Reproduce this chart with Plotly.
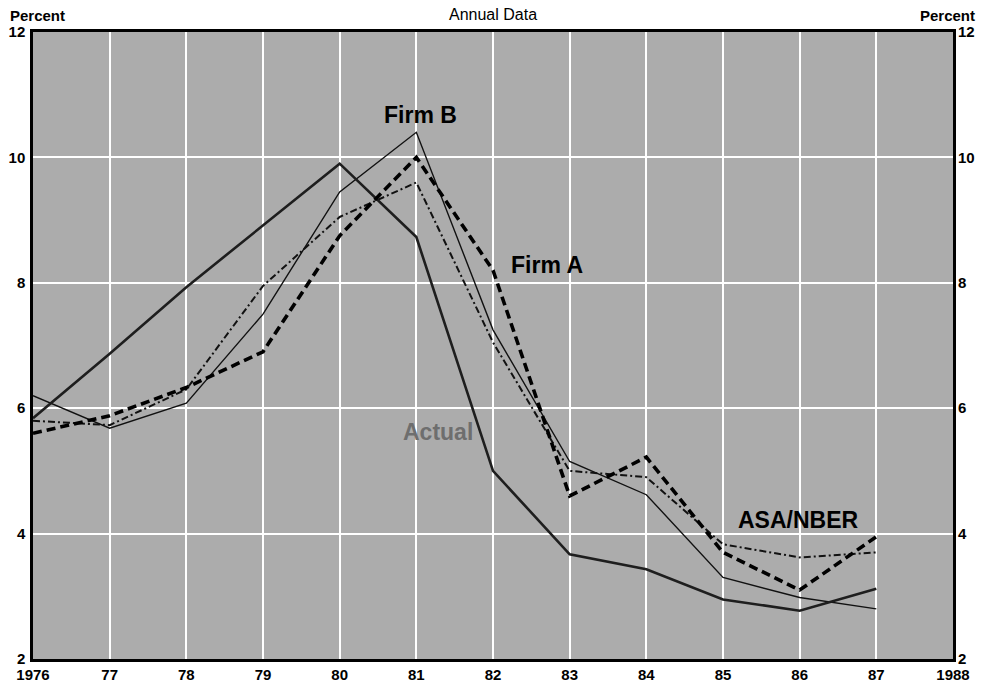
import plotly.graph_objects as go

years = [1976, 1977, 1978, 1979, 1980, 1981, 1982, 1983, 1984, 1985, 1986, 1987]
actual = [5.84, 6.87, 7.93, 8.92, 9.90, 8.73, 5.00, 3.67, 3.43, 2.95, 2.77, 3.12]
firm_a = [5.60, 5.88, 6.33, 6.90, 8.75, 10.00, 8.20, 4.60, 5.22, 3.70, 3.10, 3.95]
firm_b = [6.20, 5.68, 6.08, 7.50, 9.45, 10.40, 7.25, 5.15, 4.62, 3.30, 2.98, 2.80]
asa_nber = [5.80, 5.73, 6.30, 7.95, 9.05, 9.60, 7.05, 5.00, 4.90, 3.83, 3.62, 3.70]

x_tickvals = [1976, 1977, 1978, 1979, 1980, 1981, 1982, 1983, 1984, 1985, 1986, 1987, 1988]
x_ticktext = ["1976", "77", "78", "79", "80", "81", "82", "83", "84", "85", "86", "87", "1988"]
y_tickvals = [2, 4, 6, 8, 10, 12]

FONT = "Liberation Sans, Arial, sans-serif"

fig = go.Figure()

fig.add_trace(go.Scatter(x=years, y=firm_b, mode="lines", name="Firm B",
                         line=dict(color="#111111", width=1.4)))
fig.add_trace(go.Scatter(x=years, y=asa_nber, mode="lines", name="ASA/NBER",
                         line=dict(color="#111111", width=2, dash="7px,3px,2px,3px")))
fig.add_trace(go.Scatter(x=years, y=actual, mode="lines", name="Actual",
                         line=dict(color="#1e1e1e", width=2.6)))
fig.add_trace(go.Scatter(x=years, y=firm_a, mode="lines", name="Firm A",
                         line=dict(color="#000000", width=3.6, dash="9px,5px")))
# invisible trace to anchor the right-hand axis
fig.add_trace(go.Scatter(x=years, y=actual, mode="lines", yaxis="y2",
                         line=dict(width=0), hoverinfo="skip", showlegend=False))

label_font = dict(family=FONT, size=23, color="#000000", weight="bold")
fig.add_annotation(x=1981.06, y=10.68, text="Firm B", showarrow=False, font=label_font)
fig.add_annotation(x=1982.70, y=8.28, text="Firm A", showarrow=False, font=label_font)
fig.add_annotation(x=1985.98, y=4.22, text="ASA/NBER", showarrow=False, font=label_font)
fig.add_annotation(x=1981.28, y=5.62, text="Actual", showarrow=False,
                   font=dict(family=FONT, size=23, color="#6e6e6e", weight="bold"))

fig.add_annotation(xref="paper", yref="paper", x=0.5, y=1.0, yshift=18, yanchor="middle",
                   text="Annual Data", showarrow=False,
                   font=dict(family=FONT, size=16, color="#000000"))
fig.add_annotation(xref="paper", yref="paper", x=0, xshift=-25, y=1.0, yshift=17,
                   yanchor="middle", xanchor="left", text="Percent", showarrow=False,
                   font=dict(family=FONT, size=15, color="#000000", weight="bold"))
fig.add_annotation(xref="paper", yref="paper", x=1, xshift=24, y=1.0, yshift=17,
                   yanchor="middle", xanchor="right", text="Percent", showarrow=False,
                   font=dict(family=FONT, size=15, color="#000000", weight="bold"))

tick_font = dict(family=FONT, size=15, color="#000000", weight="bold")

fig.update_layout(
    width=982, height=690,
    margin=dict(l=33, r=29, t=32, b=31, autoexpand=False),
    paper_bgcolor="#ffffff",
    plot_bgcolor="#acacac",
    showlegend=False,
    xaxis=dict(range=[1976, 1988], tickvals=x_tickvals, ticktext=x_ticktext,
               showgrid=True, gridcolor="#ffffff", gridwidth=2,
               showline=True, linecolor="#000000", linewidth=2.5, mirror=True,
               ticks="", tickfont=dict(family=FONT, size=15, color="#000000", weight="bold"),
               zeroline=False, fixedrange=True, automargin=False),
    yaxis=dict(range=[2, 12], tickvals=y_tickvals,
               showgrid=True, gridcolor="#ffffff", gridwidth=2,
               showline=True, linecolor="#000000", linewidth=2.5, mirror=True,
               ticks="", tickfont=tick_font, ticklabelstandoff=2,
               zeroline=False, fixedrange=True, automargin=False),
    yaxis2=dict(range=[2, 12], tickvals=y_tickvals, overlaying="y", side="right",
                showgrid=False, showline=False, ticks="", tickfont=tick_font,
                ticklabelstandoff=4, zeroline=False, fixedrange=True, automargin=False),
)

fig.write_html("out.html", post_script="document.body.style.margin='0px';",
               config={"displayModeBar": False})
